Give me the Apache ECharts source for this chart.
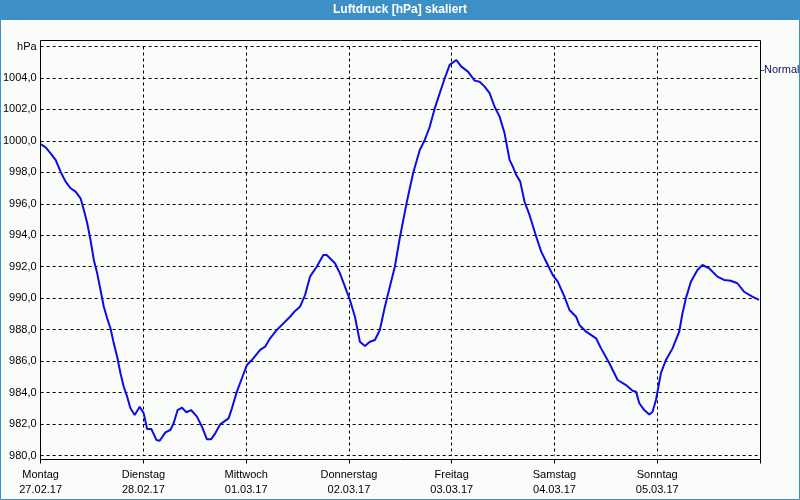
<!DOCTYPE html>
<html>
<head>
<meta charset="utf-8">
<script src="https://cdn.jsdelivr.net/npm/echarts@6/dist/echarts.min.js"></script>
<style>
html,body{margin:0;padding:0;background:#fafcfa;}
#chart{width:800px;height:500px;}
</style>
</head>
<body>
<div id="chart"></div>
<script>
// Time in hours since Montag 27.02.17 00:00
const hours = [0,1.17,2.33,3.5,4.66,5.83,6.99,8.16,9.32,10.09,10.88,11.65,12.42,13.21,13.98,14.75,15.54,16.31,17.08,17.87,18.64,19.41,20.2,20.97,21.97,23.14,24.07,24.86,25.86,27.03,27.8,29.13,30.29,31.06,31.99,33.02,34.02,35.12,36.51,37.68,38.84,39.78,40.78,41.94,43.88,44.67,45.83,47,48.16,49.33,51.26,52.43,53.59,55.15,56.69,58.25,59.42,60.58,61.75,62.91,64.47,66.01,66.8,68.74,69.9,71.07,72.23,73.4,74.56,75.73,76.89,78.06,79.22,80.39,81.55,82.72,83.88,85.45,86.98,88.54,89.71,90.87,92.04,93.2,94.37,95.53,97.09,98.26,99.8,101.36,102.52,103.69,104.85,106.02,107.18,108.35,109.51,110.28,111.08,112.01,113.01,114.17,115.74,116.9,118.07,119.61,120.77,122.33,123.5,125.06,125.83,127.39,129.72,130.88,132.82,134.75,136.71,138.24,139.04,139.81,140.97,142.14,142.91,143.7,144.86,146.03,147.57,149.13,149.9,150.69,151.86,153.39,154.56,156.12,158.05,159.61,161.17,162.71,164.27,166.2,167.77];
// Air pressure in hPa
const pressure = [999.8,999.59,999.21,998.79,998.04,997.41,996.99,996.77,996.35,995.61,994.76,993.7,992.43,991.58,990.52,989.46,988.72,988.09,987.13,986.28,985.23,984.37,983.74,983.0,982.57,983.1,982.68,981.68,981.68,980.99,980.94,981.47,981.62,982.05,982.89,983.04,982.75,982.89,982.47,981.83,981.03,981.03,981.41,981.98,982.36,983.0,984.06,984.91,985.75,986.07,986.71,986.92,987.45,987.98,988.4,988.82,989.19,989.46,990.2,991.37,992.0,992.75,992.75,992.22,991.58,990.73,989.89,988.82,987.23,986.96,987.23,987.34,987.98,989.46,990.73,992.0,993.83,996.03,997.94,999.42,1000.06,1000.9,1002.07,1003.03,1003.98,1004.83,1005.14,1004.72,1004.4,1003.83,1003.76,1003.45,1003.03,1002.17,1001.54,1000.48,998.79,998.36,997.83,997.41,996.13,995.29,993.91,992.96,992.32,991.47,991.05,990.1,989.25,988.82,988.3,987.87,987.45,986.81,985.86,984.8,984.48,984.12,984.06,983.32,982.89,982.61,982.78,983.53,985.23,986.07,986.81,987.87,989.04,989.99,991.05,991.79,992.11,991.9,991.37,991.16,991.11,990.95,990.41,990.1,989.89];

const dayNames = ['Montag','Dienstag','Mittwoch','Donnerstag','Freitag','Samstag','Sonntag'];
const dayDates = ['27.02.17','28.02.17','01.03.17','02.03.17','03.03.17','04.03.17','05.03.17'];
const unitLabel = 'hPa';
const seriesName = 'Normal';
const titleText = 'Luftdruck [hPa] skaliert';

const data = hours.map((h, i) => [h, pressure[i]]);
const FONT = '"Liberation Sans", Arial, sans-serif';
const chart = echarts.init(document.getElementById('chart'), null, {renderer: 'canvas'});

chart.setOption({
  backgroundColor: '#fafcfa',
  animation: false,
  title: {
    text: titleText,
    left: 'center',
    top: 0,
    padding: [4, 5],
    textStyle: {color: '#ffffff', fontSize: 12, fontWeight: 'bold', fontFamily: FONT}
  },
  graphic: [
    {type: 'rect', z: -1, shape: {x: 0, y: 0, width: 800, height: 20}, style: {fill: '#3d90c5'}},
    {type: 'rect', z: 100, shape: {x: 0.5, y: 0.5, width: 799, height: 499}, style: {fill: null, stroke: '#3d90c5', lineWidth: 1}},
    {type: 'rect', z: 100, shape: {x: 40.5, y: 40.5, width: 720, height: 419}, style: {fill: null, stroke: '#000', lineWidth: 1}},
    {type: 'line', z: 100, shape: {x1: 761, y1: 70.5, x2: 764, y2: 70.5}, style: {stroke: '#555', lineWidth: 1}},
    {type: 'text', z: 100, x: 764, y: 70, style: {text: seriesName, fill: '#101060', font: '11px "Liberation Sans", Arial, sans-serif', textVerticalAlign: 'middle', verticalAlign: 'middle'}}
  ],
  grid: {left: 40, right: 40, top: 46.5, bottom: 44.5},
  xAxis: {
    type: 'value',
    min: 0,
    max: 168,
    interval: 24,
    offset: 4,
    axisLine: {show: false},
    axisTick: {show: true, length: 4, lineStyle: {color: '#000'}},
    splitLine: {show: true, lineStyle: {color: '#000', type: [3, 3], width: 1}},
    axisLabel: {
      margin: 8,
      color: '#000',
      fontSize: 11,
      fontFamily: FONT,
      lineHeight: 15,
      showMaxLabel: true,
      formatter: function (v) {
        const i = Math.round(v / 24);
        if (i >= dayNames.length) return '';
        return dayNames[i] + '\n' + dayDates[i];
      }
    }
  },
  yAxis: {
    type: 'value',
    min: 980,
    max: 1006,
    interval: 2,
    axisLine: {show: false},
    axisTick: {show: false},
    splitLine: {show: true, lineStyle: {color: '#000', type: [3, 3], width: 1}},
    axisLabel: {
      margin: 4,
      color: '#000',
      fontSize: 11,
      fontFamily: FONT,
      formatter: function (v) {
        if (v === 1006) return unitLabel;
        return v.toFixed(1).replace('.', ',');
      }
    }
  },
  series: [{
    name: seriesName,
    type: 'line',
    data: data,
    showSymbol: false,
    smooth: false,
    lineStyle: {color: '#0c0ce6', width: 2},
    itemStyle: {color: '#0c0ce6'}
  }]
});
</script>
</body>
</html>
